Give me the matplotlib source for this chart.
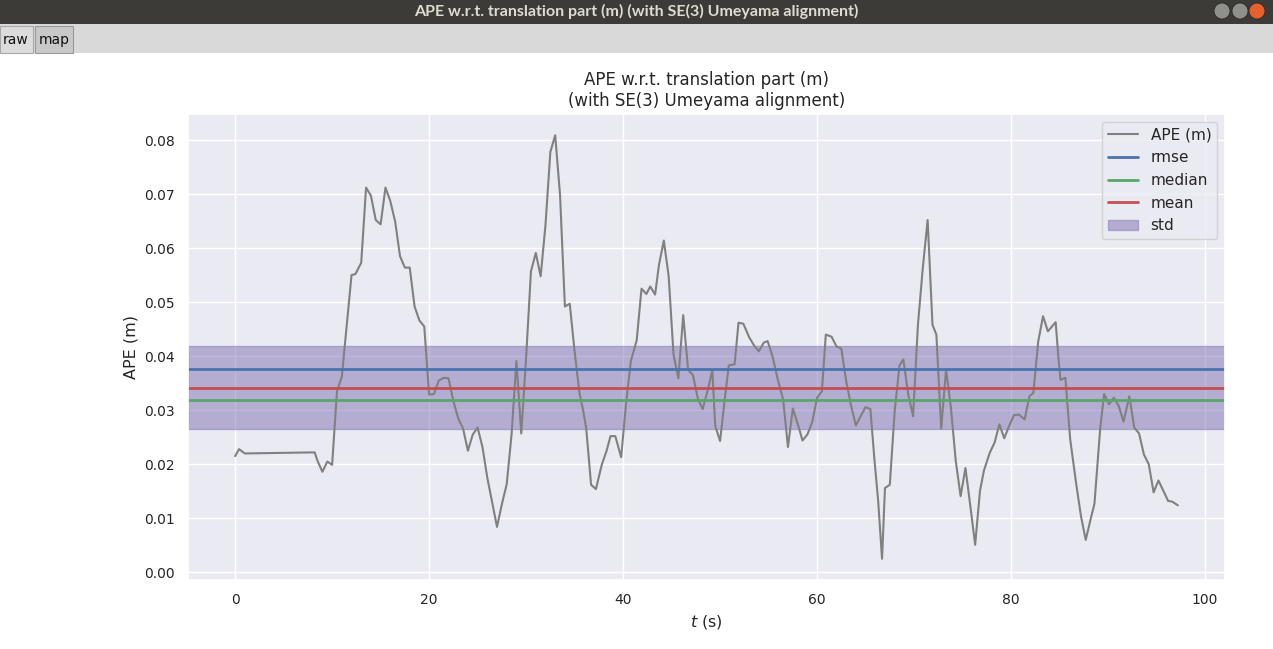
import matplotlib
matplotlib.use("Agg")
import matplotlib.pyplot as plt
from matplotlib.patches import Rectangle, Ellipse
import seaborn as sns

# ---------------- data ----------------
t_s = [0.0, 0.4, 1.0, 8.2, 8.5, 9.0, 9.5, 10.0, 10.5, 11.0, 12.0, 12.4, 13.0, 13.5,
       14.0, 14.5, 15.0, 15.5, 16.0, 16.5, 17.0, 17.5, 18.0, 18.5, 19.0, 19.5, 20.0,
       20.5, 21.0, 21.5, 22.0, 22.5, 23.0, 23.5, 24.0, 24.5, 25.0, 25.5, 26.0, 26.5,
       27.0, 27.5, 28.0, 28.5, 29.0, 29.5, 30.0, 30.5, 31.0, 31.5, 32.0, 32.5, 33.0,
       33.5, 34.0, 34.5, 35.0, 35.5, 35.9, 36.2, 36.7, 37.2, 37.8, 38.3, 38.7, 39.2,
       39.8, 40.3, 40.8, 41.4, 41.9, 42.4, 42.8, 43.3, 43.7, 44.2, 44.7, 45.2, 45.7,
       46.2, 46.7, 47.2, 47.7, 48.2, 48.7, 49.2, 49.5, 50.0, 50.5, 50.9, 51.5, 51.9,
       52.4, 53.0, 53.5, 54.0, 54.5, 54.9, 55.4, 56.0, 56.5, 57.0, 57.5, 58.0, 58.5,
       59.0, 59.5, 60.0, 60.5, 60.9, 61.5, 62.0, 62.5, 63.0, 63.5, 64.0, 64.5, 65.0,
       65.5, 65.9, 66.3, 66.7, 67.0, 67.5, 68.0, 68.5, 68.9, 69.4, 69.9, 70.4, 70.9,
       71.4, 71.9, 72.3, 72.8, 73.3, 73.8, 74.3, 74.8, 75.3, 75.8, 76.3, 76.8, 77.2,
       77.8, 78.3, 78.8, 79.3, 79.8, 80.3, 80.8, 81.4, 81.9, 82.3, 82.8, 83.3, 83.8,
       84.6, 84.9, 85.1, 85.6, 86.1, 86.7, 87.2, 87.7, 88.2, 88.6, 89.2, 89.6, 90.1,
       90.6, 91.1, 91.6, 92.2, 92.7, 93.2, 93.7, 94.2, 94.7, 95.2, 95.7, 96.2, 96.6,
       97.2]
ape_m = [0.0215, 0.0228, 0.0220, 0.0222, 0.0206, 0.0186, 0.0205, 0.0199, 0.0335, 0.0362,
         0.0550, 0.0552, 0.0573, 0.0712, 0.0697, 0.0652, 0.0644, 0.0712, 0.0687, 0.0649,
         0.0585, 0.0564, 0.0564, 0.0492, 0.0466, 0.0455, 0.0329, 0.0330, 0.0355, 0.0360,
         0.0359, 0.0317, 0.0285, 0.0266, 0.0225, 0.0255, 0.0268, 0.0232, 0.0175, 0.0129,
         0.0084, 0.0126, 0.0163, 0.0255, 0.0391, 0.0257, 0.0397, 0.0557, 0.0591, 0.0548,
         0.0643, 0.0778, 0.0809, 0.0698, 0.0492, 0.0497, 0.0409, 0.0332, 0.0298, 0.0266,
         0.0162, 0.0154, 0.0199, 0.0225, 0.0252, 0.0252, 0.0213, 0.0311, 0.0391, 0.0429,
         0.0525, 0.0515, 0.0529, 0.0514, 0.0569, 0.0614, 0.0548, 0.0403, 0.0359, 0.0476,
         0.0375, 0.0365, 0.0322, 0.0302, 0.0335, 0.0374, 0.0271, 0.0243, 0.0323, 0.0383,
         0.0385, 0.0462, 0.0460, 0.0435, 0.0420, 0.0409, 0.0425, 0.0428, 0.0400, 0.0353,
         0.0320, 0.0232, 0.0303, 0.0275, 0.0244, 0.0255, 0.0278, 0.0323, 0.0335, 0.0440,
         0.0436, 0.0418, 0.0414, 0.0354, 0.0309, 0.0272, 0.0289, 0.0306, 0.0302, 0.0212,
         0.0132, 0.0025, 0.0156, 0.0162, 0.0298, 0.0383, 0.0394, 0.0329, 0.0289, 0.0458,
         0.0563, 0.0652, 0.0458, 0.0440, 0.0266, 0.0375, 0.0305, 0.0206, 0.0141, 0.0193,
         0.0123, 0.0051, 0.0151, 0.0188, 0.0221, 0.0240, 0.0274, 0.0248, 0.0271, 0.0291,
         0.0292, 0.0283, 0.0326, 0.0332, 0.0427, 0.0474, 0.0446, 0.0463, 0.0394, 0.0356,
         0.0360, 0.0246, 0.0166, 0.0105, 0.0060, 0.0098, 0.0127, 0.0268, 0.0330, 0.0311,
         0.0323, 0.0308, 0.0279, 0.0326, 0.0268, 0.0257, 0.0218, 0.0200, 0.0148, 0.0170,
         0.0151, 0.0132, 0.0131, 0.0124]
rmse = 0.0377
median = 0.0319
mean = 0.0342
std = 0.0077

window_title = "APE w.r.t. translation part (m) (with SE(3) Umeyama alignment)"
tab_labels = ["raw", "map"]

# ---------------- style ----------------
sns.set_theme(style="darkgrid", context="notebook")
plt.rcParams["font.family"] = ["DejaVu Sans"]

W, H = 1273, 649
fig = plt.figure(figsize=(W / 100, H / 100), dpi=100)
fig.patch.set_facecolor("white")

def fx(px):
    return px / W

def fy(py):
    return 1 - py / H

# window chrome: title bar
fig.patches.append(Rectangle((0, fy(24)), 1, 24 / H, transform=fig.transFigure,
                             facecolor="#3c3b37", edgecolor="none", zorder=0))
fig.text(0.5, fy(11), window_title, ha="center", va="center", color="#dfdbd2",
         fontsize=11.5, fontweight="bold", family=["Lato", "DejaVu Sans"])
for cx, col in [(1222, "#8f8f8b"), (1240, "#8f8f8b"), (1257, "#e9602f")]:
    fig.patches.append(Ellipse((fx(cx), fy(11)), 16 / W, 16 / H, transform=fig.transFigure,
                               facecolor=col, edgecolor="#2a2a28", lw=0.6, zorder=1))
# tab strip
fig.patches.append(Rectangle((0, fy(53)), 1, 29 / H, transform=fig.transFigure,
                             facecolor="#d9d9d9", edgecolor="none", zorder=0))
fig.patches.append(Rectangle((fx(0), fy(53)), 33 / W, 27 / H, transform=fig.transFigure,
                             facecolor="#dcdcdc", edgecolor="#a8a8a8", lw=0.8, zorder=1))
fig.patches.append(Rectangle((fx(35), fy(53)), 38 / W, 27 / H, transform=fig.transFigure,
                             facecolor="#c8c8c8", edgecolor="#9a9a9a", lw=0.8, zorder=1))
fig.text(fx(16), fy(40), tab_labels[0], ha="center", va="center", fontsize=10, color="#111111")
fig.text(fx(54), fy(40), tab_labels[1], ha="center", va="center", fontsize=10, color="#111111")

# ---------------- plot ----------------
ax = fig.add_axes([fx(188), fy(580), (1225 - 188) / W, (580 - 114) / H])
ax.plot(t_s, ape_m, color="gray", lw=1.5, label="APE (m)")
ax.axhline(rmse, color="#4C72B0", lw=2, label="rmse")
ax.axhline(median, color="#55A868", lw=2, label="median")
ax.axhline(mean, color="#C44E52", lw=2, label="mean")
ax.axhspan(mean - std, mean + std, color="#8172B2", alpha=0.5, label="std")

ax.set_xlabel("$t$ (s)", fontsize=11.5)
ax.set_ylabel("APE (m)", fontsize=11.5)
ax.set_title("APE w.r.t. translation part (m)\n(with SE(3) Umeyama alignment)", fontsize=12)
ax.tick_params(labelsize=10)
ax.set_yticks([0.00, 0.01, 0.02, 0.03, 0.04, 0.05, 0.06, 0.07, 0.08])
ax.set_yticklabels(["0.00", "0.01", "0.02", "0.03", "0.04", "0.05", "0.06", "0.07", "0.08"])
ax.set_xticks([0, 20, 40, 60, 80, 100])
ax.legend(loc="upper right", fontsize=11)

fig.savefig("out.png", dpi=100)
